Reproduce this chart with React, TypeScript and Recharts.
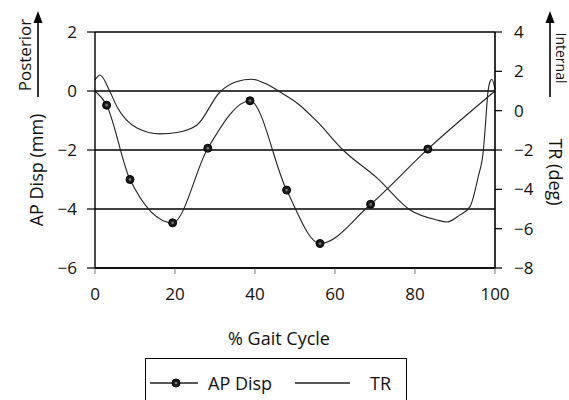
import React from "react"
import { LineChart, Line, XAxis, YAxis, CartesianGrid } from "recharts"

// % gait cycle -> AP displacement (mm), markers at the measured points
const apCycle = [0, 2.9, 8.75, 19.4, 28.2, 38.75, 47.9, 56.25, 68.9, 83.2, 100]
const apDisp = [0, -0.48, -3.0, -4.47, -1.94, -0.33, -3.36, -5.17, -3.84, -1.97, 0]

// % gait cycle -> tibial rotation (deg), smooth curve, no markers
const trCycle = [
  0, 1.25, 3.75, 5.5, 10.5, 16.25, 20.5, 25.5, 31.25, 35.5, 39.2, 42.5, 46.25, 50.5,
  55.5, 62, 70.5, 78.75, 85.5, 88, 91.25, 93.75, 95.8, 97.1, 97.7, 98.2, 98.75, 99.2, 100,
]
const trDeg = [
  1.56, 1.81, 0.96, 0.2, -0.88, -1.18, -1.11, -0.73, 0.95, 1.48, 1.6, 1.39, 0.95, 0.39,
  -0.55, -2.0, -3.42, -5.05, -5.56, -5.66, -5.3, -4.88, -3.36, -2.0, -0.47, 0.88, 1.47, 1.6, 1.1,
]

const xTicks = [0, 20, 40, 60, 80, 100]
const apTicks = [2, 0, -2, -4, -6]
const trTicks = [4, 2, 0, -2, -4, -6, -8]

const apData = apCycle.map((x, i) => ({ x, y: apDisp[i] }))
const trData = trCycle.map((x, i) => ({ x, y: trDeg[i] }))

const FONT = "'Open Sans', 'DejaVu Sans', sans-serif"
const INK = "#111"

const fmt = (v: number) => (v < 0 ? `\u2212${-v}` : `${v}`)

function ApDot(props: any) {
  const { cx, cy, index } = props
  // first and last entries are the cycle endpoints, drawn without a marker
  if (index === 0 || index === apData.length - 1) return <g key={`d${index}`} />
  return (
    <g key={`d${index}`}>
      <circle cx={cx} cy={cy} r={4} fill="#1a1a1a" stroke="#000" strokeWidth={1} />
      <circle cx={cx} cy={cy} r={1.3} fill="#777" />
    </g>
  )
}

function LeftTitle() {
  return (
    <g fontFamily={FONT} fill={INK}>
      <text x={36} y={170} transform="rotate(-90 36 170)" textAnchor="middle" dominantBaseline="central" fontSize={18}>
        AP Disp (mm)
      </text>
      <text x={24} y={55} transform="rotate(-90 24 55)" textAnchor="middle" dominantBaseline="central" fontSize={17}>
        Posterior
      </text>
      <line x1={38} y1={97} x2={38} y2={20} stroke="#000" strokeWidth={1.6} />
      <path d="M38 11 L33.5 23 L42.5 23 Z" fill="#000" />
    </g>
  )
}

function RightTitle() {
  return (
    <g fontFamily={FONT} fill={INK}>
      <text x={556} y={172} transform="rotate(90 556 172)" textAnchor="middle" dominantBaseline="central" fontSize={18}>
        TR (deg)
      </text>
      <text x={561} y={58} transform="rotate(90 561 58)" textAnchor="middle" dominantBaseline="central" fontSize={14}>
        Internal
      </text>
      <line x1={550} y1={97} x2={550} y2={20} stroke="#000" strokeWidth={1.6} />
      <path d="M550 11 L545.5 23 L554.5 23 Z" fill="#000" />
    </g>
  )
}

function BottomTitle() {
  return (
    <text x={279} y={338} textAnchor="middle" dominantBaseline="central" fontFamily={FONT} fontSize={18} fill={INK}>
      % Gait Cycle
    </text>
  )
}

function ChartLegend() {
  return (
    <div
      style={{
        position: "absolute",
        left: 145,
        top: 358,
        width: 262,
        height: 60,
        border: "1px solid #000",
        boxSizing: "border-box",
        background: "#fff",
      }}
    >
      <svg width={262} height={60} style={{ position: "absolute", left: -1, top: -1 }}>
        <line x1={5} y1={25} x2={53} y2={25} stroke="#222" strokeWidth={1.3} />
        <circle cx={31} cy={25} r={4} fill="#1a1a1a" stroke="#000" />
        <circle cx={31} cy={25} r={1.3} fill="#777" />
        <text x={63} y={25} dominantBaseline="central" fontFamily={FONT} fontSize={18} fill={INK}>
          AP Disp
        </text>
        <line x1={150} y1={25} x2={205} y2={25} stroke="#222" strokeWidth={1.3} />
        <text x={225} y={25} dominantBaseline="central" fontFamily={FONT} fontSize={18} fill={INK}>
          TR
        </text>
      </svg>
    </div>
  )
}

export default function App() {
  const tickStyle = { fill: INK, fontSize: 17, fontFamily: FONT }
  return (
    <div style={{ position: "absolute", left: 0, top: 0, width: 569, height: 400, background: "#fff", overflow: "hidden" }}>
      <LineChart width={569} height={400} margin={{ top: 32, right: 0, bottom: 62, left: 0 }}>
        <CartesianGrid yAxisId="ap" vertical={false} stroke="#000" strokeWidth={1.4} />
        <XAxis
          type="number"
          dataKey="x"
          domain={[0, 100]}
          ticks={xTicks}
          height={70}
          tick={tickStyle}
          tickSize={6}
          tickMargin={14}
          axisLine={{ stroke: "#000", strokeWidth: 1.4 }}
          tickLine={{ stroke: "#555", strokeWidth: 0.8 }}
          label={{ content: () => <BottomTitle /> }}
        />
        <YAxis
          yAxisId="ap"
          orientation="left"
          width={95}
          domain={[-6, 2]}
          ticks={apTicks}
          interval={0}
          tick={tickStyle}
          tickFormatter={fmt}
          tickSize={8}
          tickMargin={10}
          axisLine={{ stroke: "#000", strokeWidth: 1.4 }}
          tickLine={{ stroke: "#000", strokeWidth: 1.2 }}
          label={{ content: () => <LeftTitle /> }}
        />
        <YAxis
          yAxisId="tr"
          orientation="right"
          width={74}
          domain={[-8, 4]}
          ticks={trTicks}
          interval={0}
          tick={tickStyle}
          tickFormatter={fmt}
          tickSize={7}
          tickMargin={12}
          axisLine={{ stroke: "#000", strokeWidth: 1.6 }}
          tickLine={{ stroke: "#000", strokeWidth: 1.2 }}
          label={{ content: () => <RightTitle /> }}
        />
        <Line
          yAxisId="tr"
          data={trData}
          dataKey="y"
          name="TR"
          type="monotone"
          stroke="#222"
          strokeWidth={1.1}
          dot={false}
          activeDot={false}
          isAnimationActive={false}
        />
        <Line
          yAxisId="ap"
          data={apData}
          dataKey="y"
          name="AP Disp"
          type="monotone"
          stroke="#222"
          strokeWidth={1.1}
          dot={ApDot}
          activeDot={false}
          isAnimationActive={false}
        />
      </LineChart>
      <ChartLegend />
    </div>
  )
}
